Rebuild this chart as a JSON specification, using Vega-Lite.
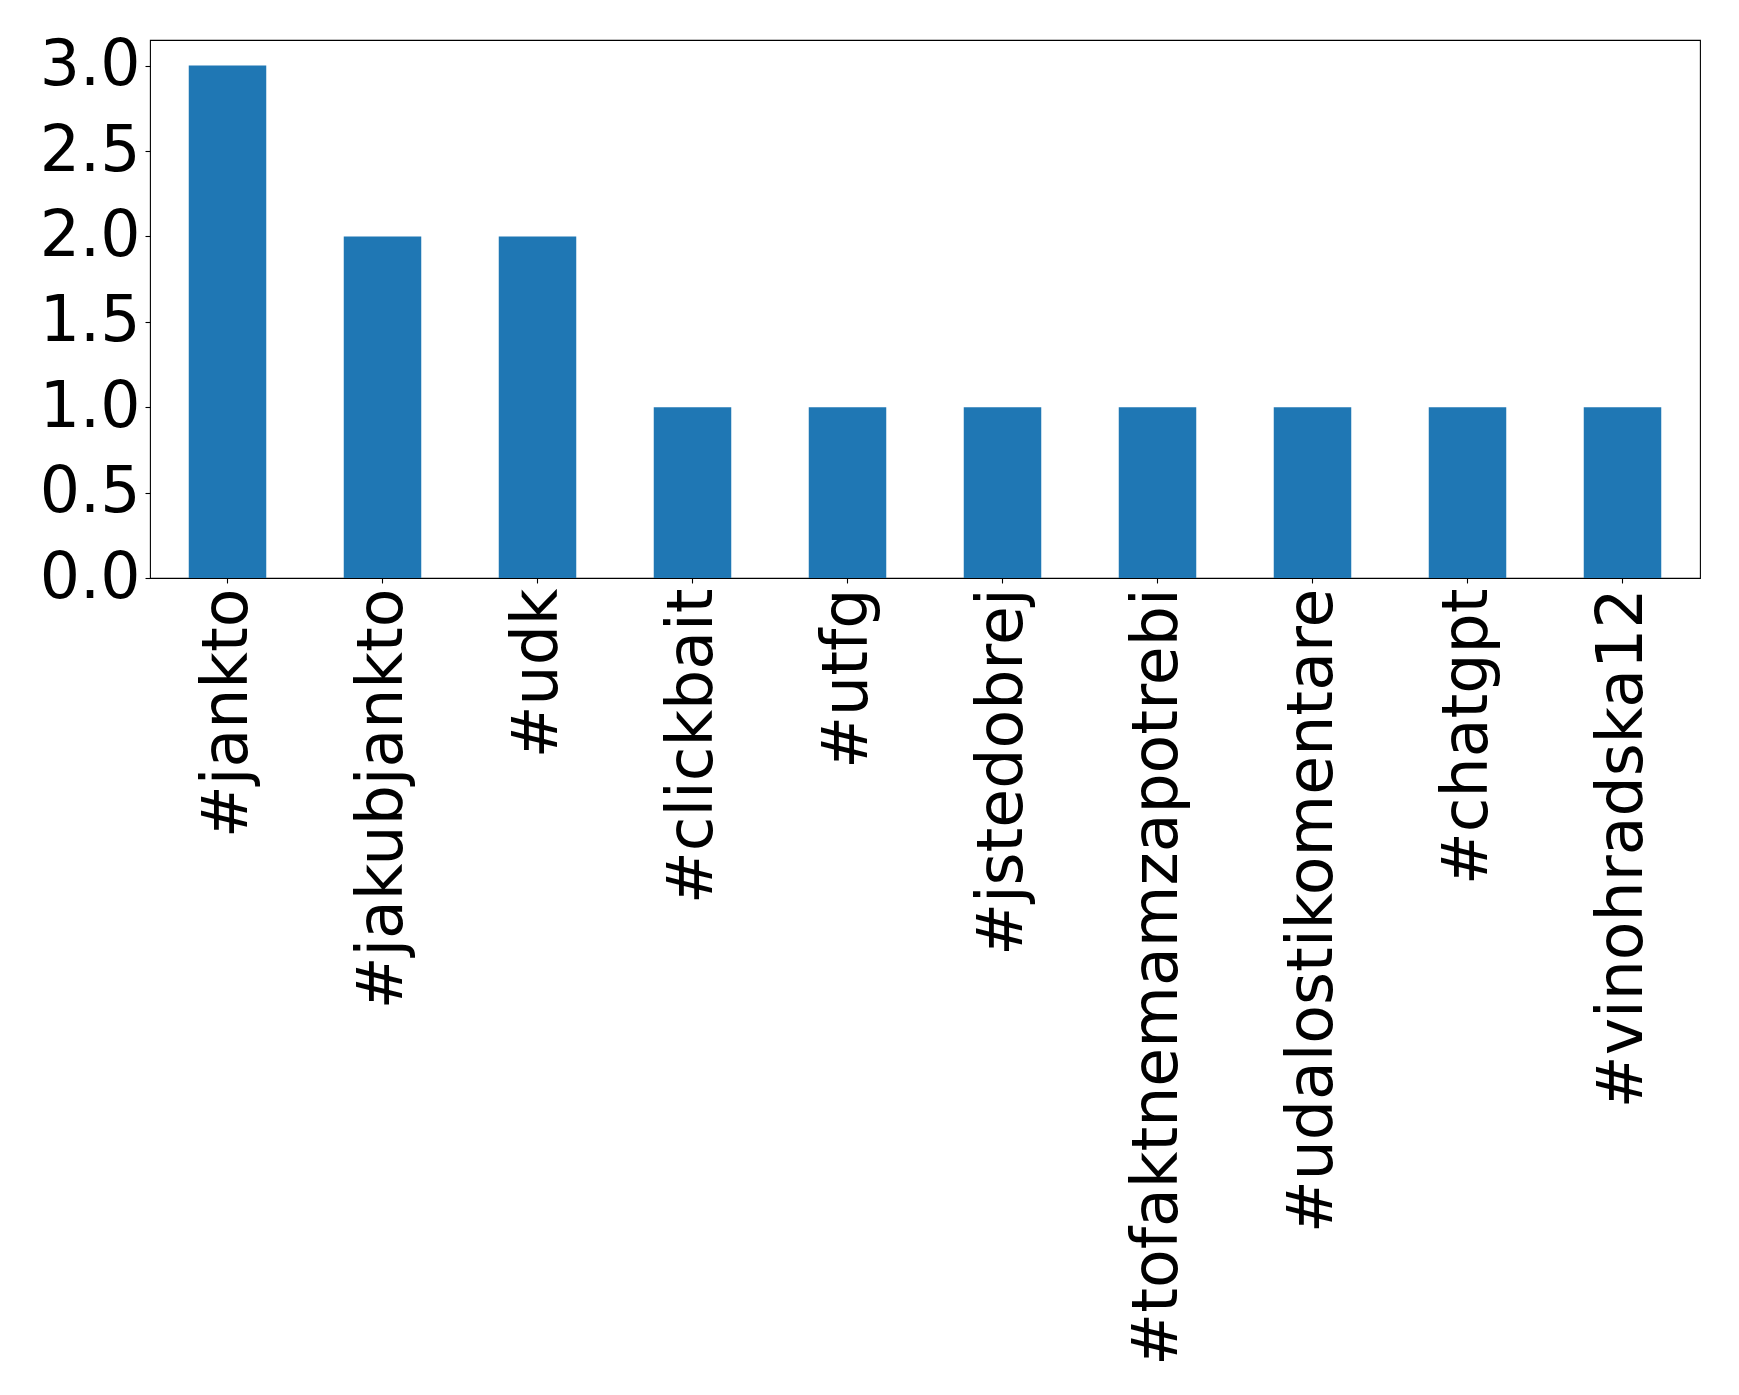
{
  "$schema": "https://vega.github.io/schema/vega-lite/v6.json",
  "autosize": "none",
  "width": 1550,
  "height": 538,
  "padding": {"left": 150, "top": 40, "right": 39, "bottom": 817},
  "background": "white",
  "config": {
    "view": {"stroke": "black", "strokeWidth": 1.1},
    "font": "DejaVu Sans"
  },
  "data": {
    "values": [
      {"hashtag": "#jankto", "count": 3},
      {"hashtag": "#jakubjankto", "count": 2},
      {"hashtag": "#udk", "count": 2},
      {"hashtag": "#clickbait", "count": 1},
      {"hashtag": "#utfg", "count": 1},
      {"hashtag": "#jstedobrej", "count": 1},
      {"hashtag": "#tofaktnemamzapotrebi", "count": 1},
      {"hashtag": "#udalostikomentare", "count": 1},
      {"hashtag": "#chatgpt", "count": 1},
      {"hashtag": "#vinohradska12", "count": 1}
    ]
  },
  "mark": {"type": "bar", "color": "#1f77b4"},
  "encoding": {
    "x": {
      "field": "hashtag",
      "type": "nominal",
      "sort": null,
      "scale": {"paddingInner": 0.5, "paddingOuter": 0.25},
      "axis": {
        "title": null,
        "domain": false,
        "grid": false,
        "labelAngle": 270,
        "labelAlign": "right",
        "labelBaseline": "middle",
        "labelFont": "DejaVu Sans",
        "labelFontSize": 63.3,
        "labelColor": "black",
        "labelPadding": 5,
        "labelLimit": 0,
        "tickColor": "black",
        "tickSize": 5,
        "tickWidth": 1.1
      }
    },
    "y": {
      "field": "count",
      "type": "quantitative",
      "scale": {"domain": [0, 3.15], "nice": false},
      "axis": {
        "title": null,
        "domain": false,
        "grid": false,
        "values": [0, 0.5, 1, 1.5, 2, 2.5, 3],
        "format": ".1f",
        "labelFont": "DejaVu Sans",
        "labelFontSize": 63.3,
        "labelColor": "black",
        "labelPadding": 5,
        "labelBaseline": "middle",
        "tickColor": "black",
        "tickSize": 5,
        "tickWidth": 1.1
      }
    }
  }
}
